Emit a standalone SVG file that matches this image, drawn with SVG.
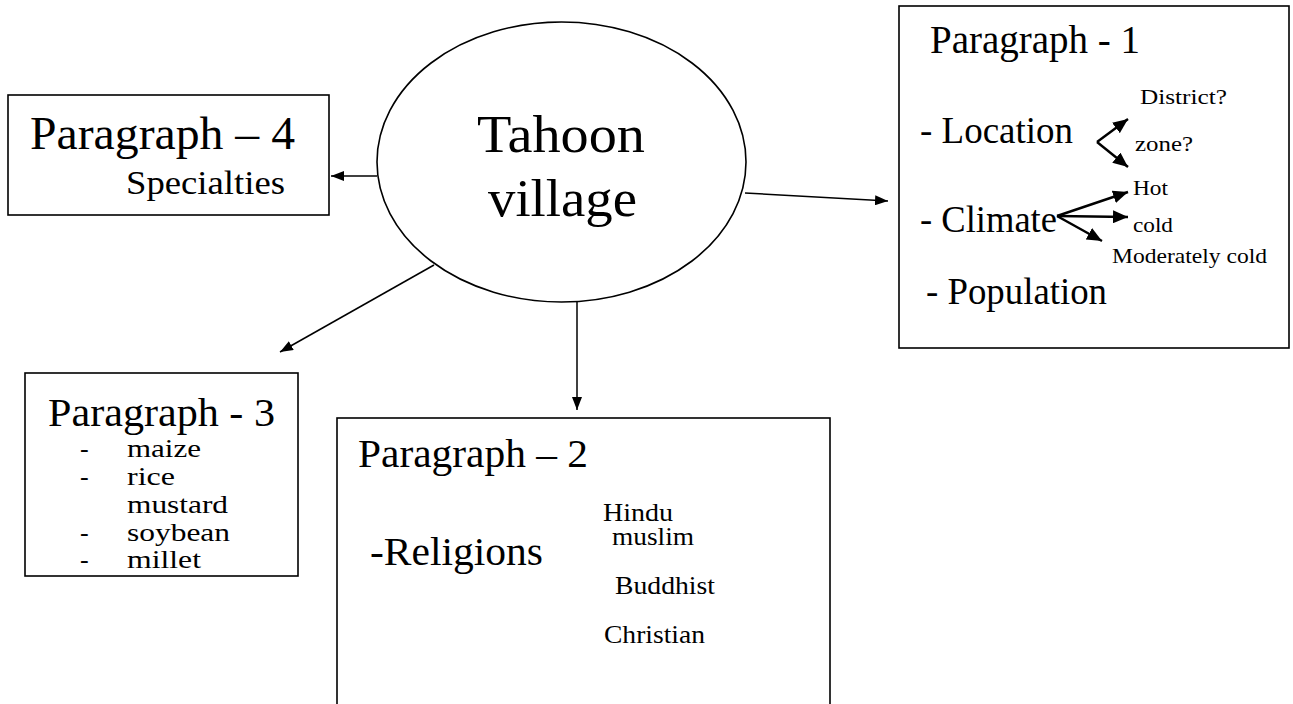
<svg xmlns="http://www.w3.org/2000/svg" width="1293" height="704" viewBox="0 0 1293 704" font-family="'Liberation Serif', 'Times New Roman', serif">
<style>
text{font-family:'Liberation Serif','Times New Roman',serif;fill:#000}
.box{fill:#fff;stroke:#000;stroke-width:1.6}
.con{stroke:#000;stroke-width:1.5;fill:none}
.sub{stroke:#000;stroke-width:2.4;fill:none}
.h{font-size:41px}
.m{font-size:37px}
.s{font-size:22px}
.i{font-size:26px}
.r{font-size:25px}
</style>
<defs>
<marker id="ah" markerUnits="userSpaceOnUse" markerWidth="13" markerHeight="10" refX="13" refY="5" orient="auto">
<path d="M0,0 L13,5 L0,10 z" fill="#000"/>
</marker>
<marker id="ah2" markerUnits="userSpaceOnUse" markerWidth="15" markerHeight="13" refX="15" refY="6.5" orient="auto">
<path d="M0,0 L15,6.5 L0,13 z" fill="#000"/>
</marker>
</defs>
<rect width="1293" height="704" fill="#fff"/>

<g id="connectors">
<line class="con" x1="377" y1="176" x2="331" y2="176" marker-end="url(#ah)"/>
<line class="con" x1="745" y1="193" x2="888" y2="201" marker-end="url(#ah)"/>
<line class="con" x1="434" y1="265" x2="280" y2="352" marker-end="url(#ah)"/>
<line class="con" x1="577" y1="288" x2="577" y2="410" marker-end="url(#ah)"/>
</g>

<g id="tahoon">
<ellipse cx="561.5" cy="162" rx="184.5" ry="140" fill="#fff" stroke="#000" stroke-width="1.6"/>
<text x="477" y="152" font-size="52" textLength="168" lengthAdjust="spacingAndGlyphs">Tahoon</text>
<text x="488" y="216" font-size="52" textLength="149" lengthAdjust="spacingAndGlyphs">village</text>
</g>

<g id="paragraph1">
<rect class="box" x="899" y="6" width="390" height="342"/>
<text x="930" y="53" font-size="39" textLength="210" lengthAdjust="spacingAndGlyphs">Paragraph - 1</text>
<text class="m" x="920" y="143" textLength="153" lengthAdjust="spacingAndGlyphs">- Location</text>
<text class="m" x="920" y="232" textLength="137" lengthAdjust="spacingAndGlyphs">- Climate</text>
<text class="m" x="926" y="304" textLength="181" lengthAdjust="spacingAndGlyphs">- Population</text>
<text class="s" x="1140" y="104" textLength="87" lengthAdjust="spacingAndGlyphs">District?</text>
<text class="s" x="1135" y="151" textLength="58" lengthAdjust="spacingAndGlyphs">zone?</text>
<text class="s" x="1133" y="195" textLength="35" lengthAdjust="spacingAndGlyphs">Hot</text>
<text class="s" x="1133" y="232" textLength="40" lengthAdjust="spacingAndGlyphs">cold</text>
<text class="s" x="1112" y="263" textLength="155" lengthAdjust="spacingAndGlyphs">Moderately cold</text>
<g id="sub-arrows">
<line class="sub" x1="1097" y1="142" x2="1128" y2="119" marker-end="url(#ah2)"/>
<line class="sub" x1="1097" y1="142" x2="1128" y2="167" marker-end="url(#ah2)"/>
<line class="sub" x1="1057" y1="216" x2="1128" y2="192" marker-end="url(#ah2)"/>
<line class="sub" x1="1057" y1="216" x2="1128" y2="217" marker-end="url(#ah2)"/>
<line class="sub" x1="1057" y1="216" x2="1102" y2="241" marker-end="url(#ah2)"/>
</g>
</g>

<g id="paragraph4">
<rect class="box" x="8" y="95" width="321" height="120"/>
<text x="30" y="149" font-size="46" textLength="265" lengthAdjust="spacingAndGlyphs">Paragraph – 4</text>
<text x="126" y="194" font-size="34" textLength="159" lengthAdjust="spacingAndGlyphs">Specialties</text>
</g>

<g id="paragraph3">
<rect class="box" x="25" y="373" width="273" height="203"/>
<text class="h" x="48" y="426" textLength="227" lengthAdjust="spacingAndGlyphs">Paragraph - 3</text>
<text class="i" x="80" y="457">-</text>
<text class="i" x="127" y="457" textLength="74" lengthAdjust="spacingAndGlyphs">maize</text>
<text class="i" x="80" y="485">-</text>
<text class="i" x="127" y="485" textLength="48" lengthAdjust="spacingAndGlyphs">rice</text>
<text class="i" x="127" y="513" textLength="101" lengthAdjust="spacingAndGlyphs">mustard</text>
<text class="i" x="80" y="541">-</text>
<text class="i" x="127" y="541" textLength="103" lengthAdjust="spacingAndGlyphs">soybean</text>
<text class="i" x="80" y="568">-</text>
<text class="i" x="127" y="568" textLength="74" lengthAdjust="spacingAndGlyphs">millet</text>
</g>

<g id="paragraph2">
<rect class="box" x="337" y="418" width="493" height="300"/>
<text class="h" x="358" y="467" textLength="230" lengthAdjust="spacingAndGlyphs">Paragraph – 2</text>
<text class="h" x="370" y="565" textLength="173" lengthAdjust="spacingAndGlyphs">-Religions</text>
<text class="r" x="603" y="521" textLength="70" lengthAdjust="spacingAndGlyphs">Hindu</text>
<text class="r" x="612" y="545" textLength="82" lengthAdjust="spacingAndGlyphs">muslim</text>
<text class="r" x="615" y="594" textLength="100" lengthAdjust="spacingAndGlyphs">Buddhist</text>
<text class="r" x="604" y="643" textLength="101" lengthAdjust="spacingAndGlyphs">Christian</text>
</g>
</svg>
